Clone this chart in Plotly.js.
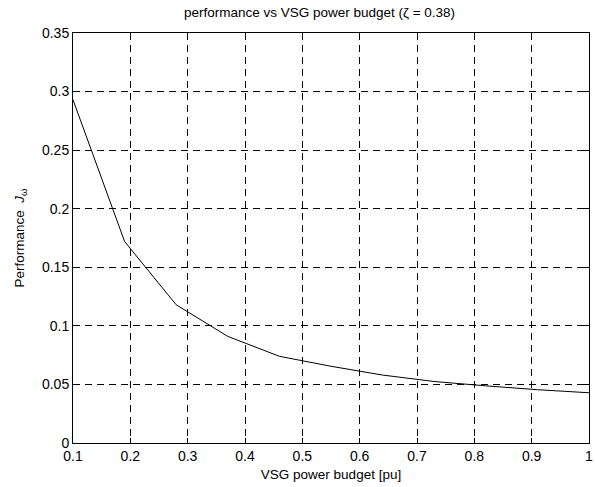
<!DOCTYPE html>
<html>
<head>
<script src="https://cdn.plot.ly/plotly-3.0.1.min.js"></script>
<style>html,body{margin:0;padding:0;background:#fff;}#chart{width:595px;height:487px;}</style>
</head>
<body>
<div id="chart"></div>
<script>
const budget = [0.1, 0.19, 0.28, 0.37, 0.46, 0.55, 0.64, 0.73, 0.82, 0.91, 1.0];
const performance = [0.293, 0.172, 0.118, 0.091, 0.074, 0.0655, 0.058, 0.0525, 0.0488, 0.0455, 0.0429];
const xTicks = [0.1, 0.2, 0.3, 0.4, 0.5, 0.6, 0.7, 0.8, 0.9, 1];
const xTickText = ['0.1', '0.2', '0.3', '0.4', '0.5', '0.6', '0.7', '0.8', '0.9', '1'];
const yTicks = [0, 0.05, 0.1, 0.15, 0.2, 0.25, 0.3, 0.35];
const yTickText = ['0', '0.05', '0.1', '0.15', '0.2', '0.25', '0.3', '0.35'];

const fam = 'Liberation Sans, Arial, sans-serif';
const tickFont = {family: fam, size: 14, color: '#000'};
const titleFont = {family: fam, size: 13.5, color: '#000'};
const axisCommon = {
  showline: true, linecolor: '#000', linewidth: 1, mirror: 'ticks',
  ticks: 'inside', ticklen: 5, tickcolor: '#000', tickwidth: 1,
  showgrid: true, gridcolor: '#000', gridwidth: 1, griddash: '7px,5px',
  zeroline: false, tickfont: tickFont
};

Plotly.newPlot('chart', [{
  x: budget, y: performance, type: 'scatter', mode: 'lines',
  line: {color: '#000', width: 1}, showlegend: false
}], {
  width: 595, height: 487,
  margin: {l: 73, r: 6, t: 33, b: 44},
  paper_bgcolor: '#fff', plot_bgcolor: '#fff',
  font: tickFont,
  title: {text: 'performance vs VSG power budget (ζ = 0.38)', font: titleFont, x: 0.537, xanchor: 'center', y: 0.975, yanchor: 'middle'},
  xaxis: Object.assign({}, axisCommon, {
    range: [0.1, 1], tickvals: xTicks, ticktext: xTickText,
    title: {text: 'VSG power budget [pu]', font: titleFont, standoff: 6}
  }),
  yaxis: Object.assign({}, axisCommon, {
    range: [0, 0.35], tickvals: yTicks, ticktext: yTickText,
    title: {text: 'Performance  <i>J</i><sub>ω</sub>', font: titleFont, standoff: 14}
  })
}, {staticPlot: true});
</script>
</body>
</html>
